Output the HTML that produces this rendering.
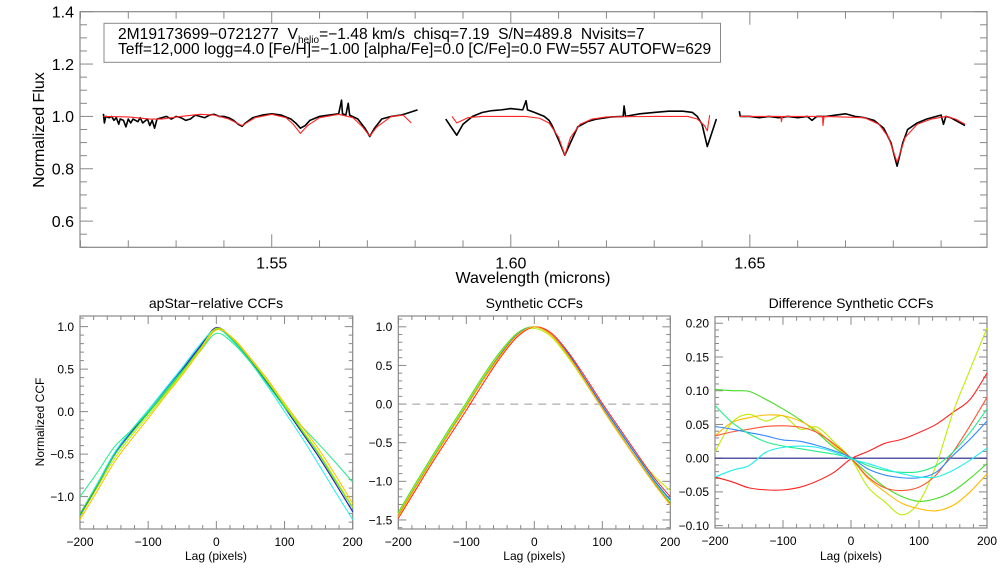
<!DOCTYPE html>
<html><head><meta charset="utf-8">
<style>
html,body{margin:0;padding:0;background:#fff;}
svg{display:block;font-family:"Liberation Sans",Arial,sans-serif;}
text{white-space:pre;}
</style></head>
<body>
<svg id="fig" width="1008" height="576" viewBox="0 0 1008 576" xmlns="http://www.w3.org/2000/svg">
<rect width="1008" height="576" fill="#fff"/>
<g id="top"></g>
<g id="p1"></g>
<g id="p2"></g>
<g id="p3"></g>
</svg>
<script>
// ---------- spectrum data ----------
const obsWave1=[1.5148,1.5150,1.5153,1.5160,1.5165,1.517,1.5175,1.518,1.5183,1.519,1.5195,1.520,1.5205,1.521,1.522,1.5225,1.523,1.524,1.5245,1.525,1.5255,1.526,1.527,1.528,1.529,1.530,1.531,1.532,1.533,1.534,1.535,1.536,1.537,1.538,1.539,1.540,1.541,1.542,1.543,1.5438,1.5445,1.546,1.548,1.550,1.552,1.554,1.555,1.556,1.557,1.558,1.560,1.562,1.564,1.5646,1.5648,1.5655,1.566,1.5663,1.568,1.5695,1.5705,1.5715,1.573,1.575,1.577,1.578,1.5805];
const obsFlux1=[1.01,0.975,1.00,0.995,1.0,0.985,0.995,0.97,0.99,0.985,0.96,0.99,0.975,0.99,0.98,0.995,0.975,0.99,0.965,0.985,0.955,0.99,0.995,1.0,0.99,1.0,0.995,0.985,0.99,1.005,1.0,0.995,1.005,1.008,1.0,1.0,0.995,0.985,0.97,0.962,0.975,0.995,1.005,1.01,1.005,0.99,0.975,0.955,0.965,0.985,1.0,1.005,1.01,1.062,1.01,1.005,1.05,1.005,0.99,0.955,0.923,0.955,0.99,1.0,1.005,1.01,1.025];
const modWave1=[1.5148,1.520,1.5245,1.527,1.531,1.535,1.538,1.541,1.5438,1.5465,1.550,1.553,1.5545,1.556,1.5575,1.560,1.564,1.567,1.569,1.5705,1.572,1.575,1.5775,1.5792];
const modFlux1=[1.0,0.998,0.99,0.99,1.0,1.008,1.005,0.99,0.965,0.995,1.008,0.995,0.97,0.935,0.965,0.995,1.008,0.995,0.96,0.925,0.96,1.0,1.005,0.975];
const obsWave2=[1.5864,1.5875,1.5887,1.590,1.592,1.594,1.596,1.598,1.600,1.6025,1.6032,1.6035,1.605,1.607,1.608,1.6085,1.610,1.6113,1.6125,1.6135,1.614,1.616,1.618,1.621,1.6235,1.6237,1.624,1.627,1.630,1.633,1.636,1.638,1.639,1.640,1.6411,1.643];
const obsFlux2=[0.99,0.96,0.928,0.97,1.0,1.015,1.022,1.025,1.03,1.025,1.06,1.025,1.015,1.0,0.985,0.97,0.91,0.852,0.9,0.94,0.96,0.98,0.99,0.998,1.0,1.04,1.0,1.01,1.015,1.02,1.02,1.015,1.0,0.97,0.885,0.99];
const modWave2=[1.5877,1.5887,1.591,1.594,1.603,1.606,1.608,1.610,1.6113,1.6125,1.6145,1.617,1.620,1.630,1.637,1.639,1.6405,1.6411,1.6416];
const modFlux2=[1.0,0.975,0.995,1.0,1.0,0.993,0.975,0.92,0.852,0.92,0.97,0.99,0.998,1.0,1.0,0.99,0.965,0.945,1.005];
const obsWave3=[1.6478,1.648,1.650,1.652,1.654,1.656,1.658,1.660,1.662,1.663,1.664,1.666,1.668,1.670,1.672,1.674,1.676,1.678,1.6795,1.6808,1.682,1.683,1.685,1.687,1.689,1.690,1.6905,1.691,1.692,1.693,1.694,1.695];
const obsFlux3=[1.02,1.0,1.0,0.995,1.0,0.995,1.0,0.995,1.0,0.985,1.0,1.0,1.005,1.01,1.0,0.995,0.985,0.955,0.9,0.81,0.9,0.95,0.975,0.99,1.0,1.005,0.97,1.0,0.995,0.985,0.975,0.965];
const modWave3=[1.6478,1.6565,1.6566,1.6568,1.6652,1.6653,1.6655,1.674,1.677,1.679,1.6808,1.6825,1.685,1.688,1.691,1.693,1.695];
const modFlux3=[1.0,1.0,0.98,1.0,1.0,0.965,1.0,0.995,0.97,0.92,0.825,0.92,0.97,0.99,1.0,0.99,0.97];

// ---------- CCF data ----------
const lags=[-200,-175,-150,-125,-100,-75,-50,-25,0,25,50,75,100,125,150,175,200];
const ccfColors=["#2266ff","#2222aa","#22eeee","#22ee88","#44dd22","#bbee00","#ffbb00"];
const apBlue=[-1.22,-0.86,-0.5,-0.24,0.0,0.25,0.5,0.76,0.98,0.83,0.6,0.33,0.05,-0.24,-0.53,-0.85,-1.17];
const apNavy=[-1.24,-0.88,-0.52,-0.25,-0.01,0.24,0.49,0.75,0.99,0.84,0.61,0.34,0.05,-0.24,-0.53,-0.85,-1.18];
const apCyan=[-1.2,-0.85,-0.49,-0.22,0.02,0.27,0.52,0.78,0.97,0.82,0.58,0.3,0.0,-0.3,-0.62,-0.95,-1.27];
const apSpring=[-1.0,-0.72,-0.42,-0.22,0.0,0.24,0.48,0.7,0.92,0.8,0.58,0.32,0.05,-0.17,-0.38,-0.6,-0.83];
const apGreen=[-1.2,-0.87,-0.52,-0.26,-0.02,0.22,0.47,0.73,0.97,0.84,0.61,0.35,0.07,-0.22,-0.5,-0.82,-1.13];
const apYelGreen=[-1.24,-0.9,-0.56,-0.29,-0.05,0.2,0.45,0.72,0.98,0.85,0.62,0.36,0.08,-0.2,-0.48,-0.8,-1.12];
const apGold=[-1.27,-0.94,-0.6,-0.33,-0.08,0.18,0.43,0.7,0.96,0.86,0.63,0.38,0.1,-0.17,-0.44,-0.75,-1.08];

const synColors=["#44dd22","#bbee00","#22eeee","#2266ff","#ff7722","#ff2222","#ffbb00"];
const synLime=[-1.4,-1.03,-0.67,-0.32,0.02,0.37,0.68,0.92,1.0,0.89,0.61,0.28,-0.06,-0.39,-0.7,-1.0,-1.28];
const synYelGreen=[-1.42,-1.05,-0.69,-0.34,0.0,0.35,0.66,0.91,0.98,0.87,0.6,0.28,-0.05,-0.36,-0.66,-0.92,-1.12];
const synCyan=[-1.44,-1.07,-0.71,-0.36,-0.02,0.33,0.64,0.9,1.0,0.9,0.64,0.31,-0.03,-0.35,-0.67,-0.98,-1.25];
const synBlue=[-1.45,-1.08,-0.72,-0.37,-0.03,0.32,0.64,0.9,1.0,0.9,0.65,0.32,-0.02,-0.34,-0.66,-0.97,-1.24];
const synOrange=[-1.44,-1.08,-0.72,-0.37,-0.03,0.32,0.63,0.89,1.0,0.9,0.63,0.3,-0.05,-0.38,-0.7,-1.01,-1.3];
const synRed=[-1.48,-1.12,-0.76,-0.42,-0.08,0.27,0.6,0.87,1.0,0.92,0.67,0.35,0.01,-0.31,-0.63,-0.94,-1.2];
const synGold=[-1.46,-1.09,-0.73,-0.38,-0.04,0.31,0.62,0.89,1.0,0.89,0.62,0.29,-0.06,-0.39,-0.71,-1.02,-1.31];

const diffColors=["#ff2222","#44dd22","#bbee00","#ffbb00","#ff5533","#3388ff","#22ee88","#22eeee"];
const diffRed=[-0.028,-0.035,-0.044,-0.047,-0.047,-0.043,-0.034,-0.021,-0.001,0.010,0.022,0.028,0.038,0.050,0.068,0.087,0.126];
const diffLime=[0.102,0.100,0.099,0.087,0.073,0.057,0.038,0.016,-0.001,-0.023,-0.043,-0.057,-0.064,-0.060,-0.049,-0.030,-0.008];
const diffYelGreen=[0.009,0.053,0.065,0.055,0.063,0.043,0.046,0.024,-0.001,-0.043,-0.065,-0.084,-0.065,-0.011,0.068,0.131,0.193];
const diffGold=[0.033,0.053,0.060,0.064,0.063,0.055,0.041,0.019,-0.001,-0.030,-0.050,-0.067,-0.075,-0.078,-0.070,-0.050,-0.023];
const diffOrange=[0.033,0.039,0.043,0.047,0.048,0.046,0.038,0.021,0.000,-0.028,-0.044,-0.048,-0.043,-0.025,0.009,0.048,0.090];
const diffBlue=[0.047,0.043,0.038,0.033,0.027,0.025,0.019,0.011,0.001,-0.016,-0.025,-0.029,-0.029,-0.021,0.004,0.028,0.055];
const diffSpring=[0.078,0.053,0.036,0.024,0.018,0.014,0.010,0.006,0.000,-0.011,-0.018,-0.021,-0.020,-0.011,0.009,0.038,0.073];
const diffCyan=[-0.028,-0.018,-0.011,0.009,0.016,0.018,0.016,0.009,-0.001,-0.008,-0.016,-0.023,-0.028,-0.028,-0.018,-0.003,0.015];

const NS="http://www.w3.org/2000/svg";
function el(tag,attrs,parent,text){const e=document.createElementNS(NS,tag);for(const k in attrs)e.setAttribute(k,attrs[k]);if(text!==undefined)e.textContent=text;parent.appendChild(e);return e;}
const AX="#888";
function fmt(v,d){const r=Math.abs(v)<1e-9?0:v;return r.toFixed(d).replace('-','−');}

function makeAxes(g,box,xr,yr,xMaj,xMin,yMaj,yMin,xFmt,yFmt,fs,tl,tls){
  const sx=v=>box.x0+(v-xr[0])/(xr[1]-xr[0])*(box.x1-box.x0);
  const sy=v=>box.y1-(v-yr[0])/(yr[1]-yr[0])*(box.y1-box.y0);
  const fr=el('rect',{x:box.x0,y:box.y0,width:box.x1-box.x0,height:box.y1-box.y0,fill:'none',stroke:AX,'stroke-width':1.2},g);
  
  
  const eps=1e-9;
  for(let v=Math.ceil(xr[0]/xMin-eps)*xMin;v<=xr[1]+eps;v+=xMin){
    const maj=Math.abs(v/xMaj-Math.round(v/xMaj))<1e-6;const L=maj?tl:tls;const x=sx(v);
    el('line',{x1:x,y1:box.y1,x2:x,y2:box.y1-L,stroke:AX},g);
    el('line',{x1:x,y1:box.y0,x2:x,y2:box.y0+L,stroke:AX},g);
    if(maj){const t=el('text',{x:x,y:box.y1+fs+5,'font-size':fs,'text-anchor':'middle',fill:'#000'},g,xFmt(v));
      
      }
  }
  for(let v=Math.ceil(yr[0]/yMin-eps)*yMin;v<=yr[1]+eps;v+=yMin){
    const maj=Math.abs(v/yMaj-Math.round(v/yMaj))<1e-6;const L=maj?tl:tls;const y=sy(v);
    el('line',{x1:box.x0,y1:y,x2:box.x0+L,y2:y,stroke:AX},g);
    el('line',{x1:box.x1,y1:y,x2:box.x1-L,y2:y,stroke:AX},g);
    if(maj){const t=el('text',{x:box.x0-6,y:y+fs*0.36,'font-size':fs,'text-anchor':'end',fill:'#000'},g,yFmt(v));
      
      }
  }
  return {sx,sy};
}
function line(g,xs,ys,sc,color,w,name){
  const d=xs.map((x,i)=>(i?'L':'M')+sc.sx(x).toFixed(2)+','+sc.sy(ys[i]).toFixed(2)).join('');
  const p=el('path',{d:d,fill:'none',stroke:color,'stroke-width':w,'stroke-linejoin':'round'},g);
  
  
  return p;
}
function smooth(g,xs,ys,sc,color,w,name){
  const P=xs.map((x,i)=>[sc.sx(x),sc.sy(ys[i])]);
  let d='M'+P[0][0].toFixed(2)+','+P[0][1].toFixed(2);
  for(let i=0;i<P.length-1;i++){
    const p0=P[Math.max(0,i-1)],p1=P[i],p2=P[i+1],p3=P[Math.min(P.length-1,i+2)];
    const c1=[p1[0]+(p2[0]-p0[0])/6,p1[1]+(p2[1]-p0[1])/6],c2=[p2[0]-(p3[0]-p1[0])/6,p2[1]-(p3[1]-p1[1])/6];
    d+='C'+c1.map(v=>v.toFixed(2)).join(',')+' '+c2.map(v=>v.toFixed(2)).join(',')+' '+p2[0].toFixed(2)+','+p2[1].toFixed(2);
  }
  const p=el('path',{d:d,fill:'none',stroke:color,'stroke-width':w},g);
  
  
}
function txt(g,x,y,s,str,name,extra){const a=Object.assign({x:x,y:y,'font-size':s,'text-anchor':'middle',fill:'#000'},extra||{});const t=el('text',a,g,str);
  
  return t;}

// ---------- top panel ----------
const gt=document.getElementById('top');
const st=makeAxes(gt,{x0:80,x1:987,y0:11.7,y1:247.3},[1.5099,1.6996],[0.5,1.4],0.05,0.01,0.2,0.05,v=>v.toFixed(2),v=>v.toFixed(1),16,13,7);
[[obsWave1,obsFlux1,modWave1,modFlux1],[obsWave2,obsFlux2,modWave2,modFlux2],[obsWave3,obsFlux3,modWave3,modFlux3]].forEach((s,i)=>{
  line(gt,s[0],s[1],st,'#000',1.6,'observed-spectrum-seg'+(i+1));
  line(gt,s[2],s[3],st,'#ff2222',1.1,'model-spectrum-seg'+(i+1));
});
txt(gt,533,283,16,'Wavelength (microns)','x-axis-title');
txt(gt,0,0,16,'Normalized Flux','y-axis-title',{transform:'translate(44,130) rotate(-90)'});
const lb=el('rect',{x:104,y:23.3,width:616.5,height:39,fill:'#fff',stroke:AX,'stroke-width':1},gt);


const t1=el('text',{x:118,y:39,'font-size':15.6,fill:'#000'},gt);


t1.innerHTML='2M19173699−0721277  V<tspan font-size="10" dy="4">helio</tspan><tspan dy="-4">=−1.48 km/s  chisq=7.19  S/N=489.8  Nvisits=7</tspan>';
const t2=txt(gt,118,54,15.6,'Teff=12,000 logg=4.0 [Fe/H]=−1.00 [alpha/Fe]=0.0 [C/Fe]=0.0 FW=557 AUTOFW=629','info-line-2',{'text-anchor':'start'});

// ---------- CCF panels ----------
const g1=document.getElementById('p1');
const s1=makeAxes(g1,{x0:80,x1:352.7,y0:316,y1:529},[-200,200],[-1.381,1.125],100,20,0.5,0.1,v=>fmt(v,0),v=>fmt(v,1),12,8,4);
[apBlue,apNavy,apCyan,apSpring,apGreen,apYelGreen,apGold].forEach((s,i)=>smooth(g1,lags,s,s1,ccfColors[i],1,'apstar-ccf-'+i));
txt(g1,216,308,14,'apStar−relative CCFs','panel-title');
txt(g1,216,560,12,'Lag (pixels)','x-axis-title');
txt(g1,0,0,12,'Normalized CCF','y-axis-title',{transform:'translate(44,422) rotate(-90)'});

const g2=document.getElementById('p2');
const s2=makeAxes(g2,{x0:398.3,x1:670.3,y0:316,y1:529},[-200,200],[-1.617,1.14],100,20,0.5,0.1,v=>fmt(v,0),v=>fmt(v,1),12,8,4);
const zl=el('line',{x1:398.3,x2:670.3,y1:s2.sy(0),y2:s2.sy(0),stroke:'#999','stroke-dasharray':'8,6'},g2);


[synLime,synYelGreen,synCyan,synBlue,synOrange,synRed,synGold].forEach((s,i)=>smooth(g2,lags,s,s2,synColors[i],1,'synthetic-ccf-'+i));
txt(g2,534.3,308,14,'Synthetic CCFs','panel-title');
txt(g2,534.3,560,12,'Lag (pixels)','x-axis-title');

const g3=document.getElementById('p3');
const s3=makeAxes(g3,{x0:715,x1:987,y0:316.7,y1:528},[-200,200],[-0.1035,0.2097],100,20,0.05,0.01,v=>fmt(v,0),v=>fmt(v,2),12,8,4);
const zl3=el('line',{x1:715,x2:987,y1:s3.sy(0),y2:s3.sy(0),stroke:'#222288','stroke-width':1.2},g3);


[diffRed,diffLime,diffYelGreen,diffGold,diffOrange,diffBlue,diffSpring,diffCyan].forEach((s,i)=>smooth(g3,lags,s,s3,diffColors[i],1.1,'difference-ccf-'+i));
txt(g3,851,308,14,'Difference Synthetic CCFs','panel-title');
txt(g3,851,560,12,'Lag (pixels)','x-axis-title');
</script>
</body></html>
